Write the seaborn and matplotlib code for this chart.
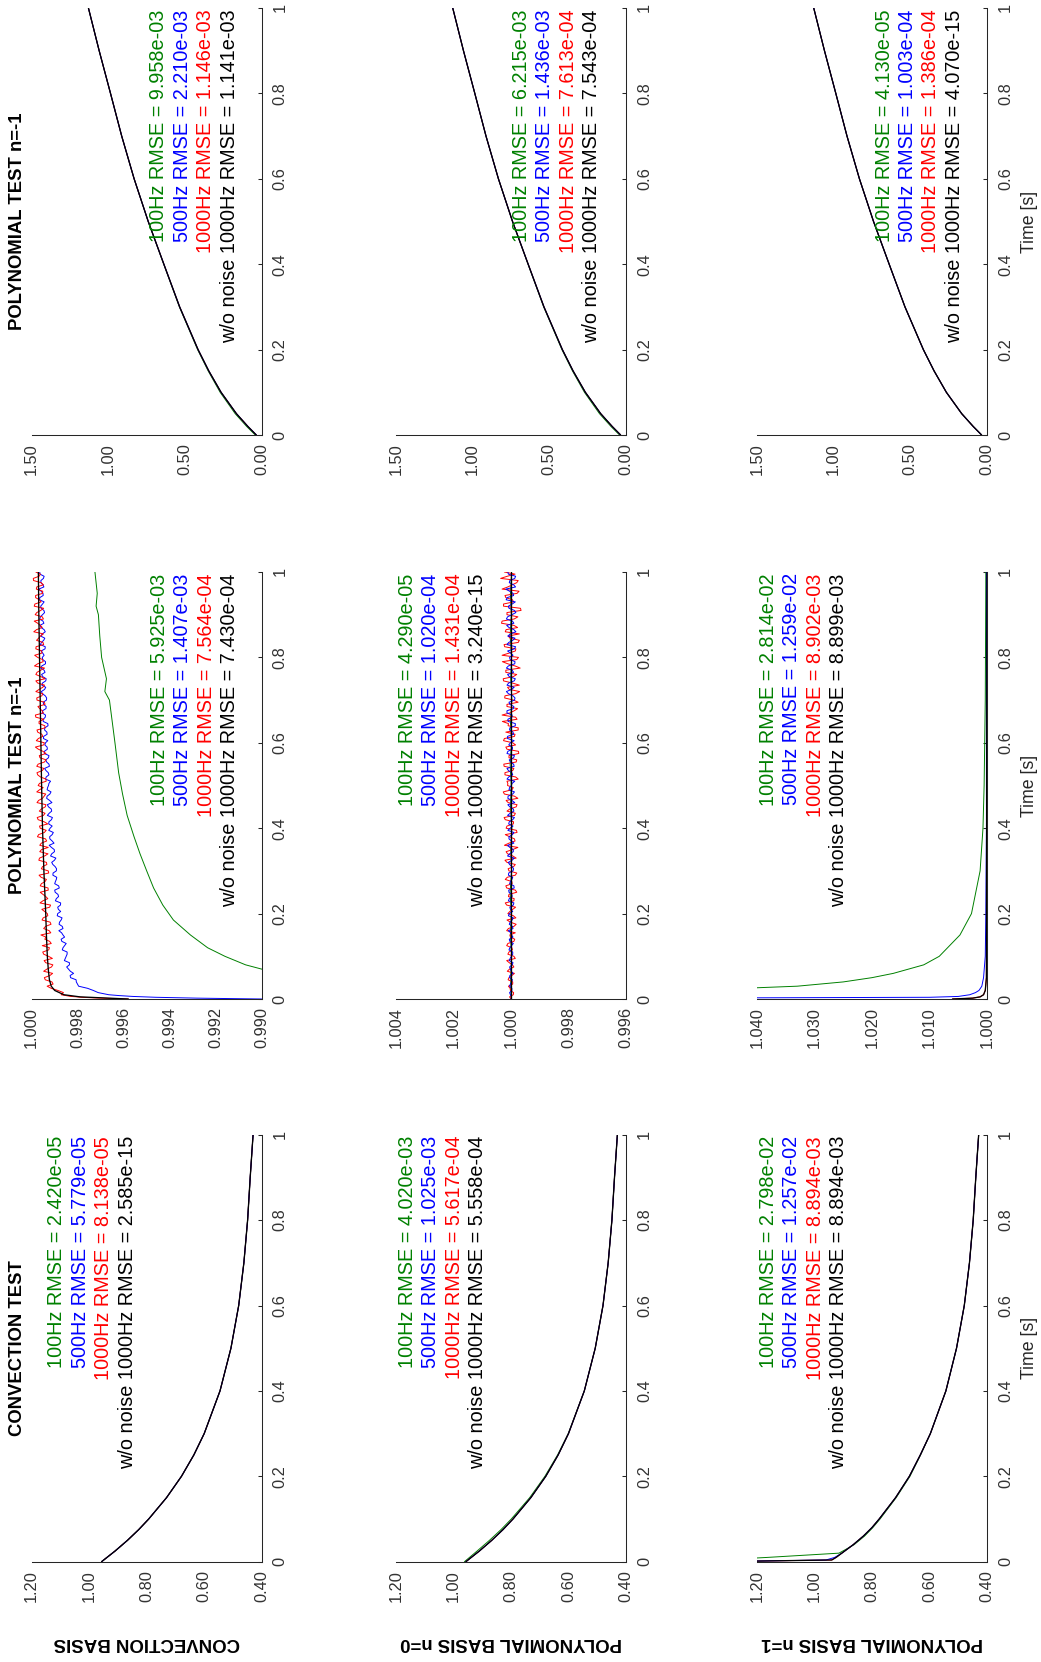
import numpy as np
import matplotlib
matplotlib.use("Agg")
import matplotlib.pyplot as plt
import seaborn as sns
from matplotlib.ticker import FormatStrFormatter

# ---------------- data ----------------
TIME_TICKS = [0, 0.2, 0.4, 0.6, 0.8, 1.0]
TIME_LABELS = ["0", "0.2", "0.4", "0.6", "0.8", "1"]

ROW_LABELS = ["CONVECTION BASIS", "POLYNOMIAL BASIS n=0", "POLYNOMIAL BASIS n=1"]
COL_TITLES = ["CONVECTION TEST", "POLYNOMIAL TEST n=-1", "POLYNOMIAL TEST n=-1"]
LINE_NAMES = ["100Hz", "500Hz", "1000Hz", "w/o noise 1000Hz"]

# RMSE values [test][basis] -> 100Hz, 500Hz, 1000Hz, w/o noise
RMSE = [
    [["2.420e-05", "5.779e-05", "8.138e-05", "2.585e-15"],
     ["4.020e-03", "1.025e-03", "5.617e-04", "5.558e-04"],
     ["2.798e-02", "1.257e-02", "8.894e-03", "8.894e-03"]],
    [["5.925e-03", "1.407e-03", "7.564e-04", "7.430e-04"],
     ["4.290e-05", "1.020e-04", "1.431e-04", "3.240e-15"],
     ["2.814e-02", "1.259e-02", "8.902e-03", "8.899e-03"]],
    [["9.958e-03", "2.210e-03", "1.146e-03", "1.141e-03"],
     ["6.215e-03", "1.436e-03", "7.613e-04", "7.543e-04"],
     ["4.130e-05", "1.003e-04", "1.386e-04", "4.070e-15"]],
]

# convection test
T_CONV = [0, 0.025, 0.05, 0.075, 0.1, 0.15, 0.2, 0.25, 0.3, 0.4, 0.5, 0.6, 0.7, 0.8, 0.9, 1.0]
CONV_FIT = [0.957, 0.910, 0.867, 0.828, 0.793, 0.731, 0.679, 0.636, 0.600, 0.545,
            0.507, 0.480, 0.462, 0.449, 0.440, 0.430]
CONV_N0_100HZ = [0.962, 0.918, 0.875, 0.835, 0.799, 0.735, 0.682, 0.638, 0.601, 0.545,
                 0.507, 0.480, 0.462, 0.449, 0.440, 0.430]
T_CONV_N1 = [0, 0.004, 0.01, 0.02, 0.04, 0.06, 0.08, 0.1, 0.15, 0.2, 0.25, 0.3,
             0.4, 0.5, 0.6, 0.7, 0.8, 0.9, 1.0]
CONV_N1_FIT = [1.35, 0.94, 0.925, 0.905, 0.865, 0.83, 0.80, 0.775, 0.718, 0.670, 0.632,
               0.597, 0.543, 0.506, 0.479, 0.461, 0.448, 0.439, 0.429]
CONV_N1_500HZ = [1.35, 0.96, 0.93, 0.905, 0.865, 0.83, 0.80, 0.775, 0.718, 0.670, 0.632,
                 0.597, 0.543, 0.506, 0.479, 0.461, 0.448, 0.439, 0.429]
T_CONV_N1_100HZ = [0, 0.01, 0.02, 0.03, 0.04, 0.06, 0.08, 0.1, 0.15, 0.2, 0.25, 0.3,
                   0.4, 0.5, 0.6, 0.7, 0.8, 0.9, 1.0]
CONV_N1_100HZ = [1.45, 1.165, 0.915, 0.888, 0.862, 0.826, 0.797, 0.772, 0.716, 0.668, 0.631,
                 0.597, 0.543, 0.506, 0.479, 0.461, 0.448, 0.439, 0.429]

# polynomial test, middle row of panels (offsets from 1 in units of 1e-5)
T_HEAD = [0, 0.002, 0.004, 0.006, 0.008]
T_STEP = np.linspace(0.01, 1.0, 100)
T_STEP_MID = np.linspace(0.005, 0.995, 100)

T_PM_CONV_FIT = [0, 0.005, 0.01, 0.02, 0.03, 0.045, 0.07, 0.1, 0.15, 0.2, 0.3, 0.4,
                 0.5, 0.6, 0.7, 0.8, 0.9, 1.0]
PM_CONV_FIT = [-420, -210, -140, -100, -85, -77, -72, -68, -64, -61, -53, -47,
               -43, -40, -37, -34, -31, -29]
PM_CONV_1000HZ_HEAD = [-420, -300, -215, -170, -150]
PM_CONV_1000HZ = [
    -128, -114, -67, -88, -55, -91, -66, -92, -54, -73,
    -48, -77, -85, -57, -40, -76, -60, -80, -50, -68,
    -44, -82, -49, -61, -37, -71, -42, -64, -32, -72,
    -47, -64, -34, -71, -43, -35, -65, -25, -55, -37,
    -70, -28, -51, -33, -59, -23, -47, -61, -34, -28,
    -63, -38, -23, -53, -28, -63, -33, -49, -16, -55,
    -29, -44, -23, -57, -32, -18, -51, -35, -58, -23,
    -44, -18, -48, -26, -58, -18, -39, -12, -50, -26,
    -44, -18, -52, -21, -38, -9, -46, -26, -51, -15,
    -39, -11, -41, -17, -47, -20, -51, -8, -32, -18]
PM_CONV_1000HZ_MID = [
    -197, -138, -85, -93, -59, -79, -52, -86, -61, -90,
    -52, -74, -46, -78, -62, -83, -52, -84, -45, -70,
    -56, -78, -36, -70, -49, -72, -37, -58, -41, -74,
    -42, -66, -31, -56, -35, -72, -42, -60, -30, -63,
    -34, -54, -24, -58, -42, -62, -30, -54, -22, -50,
    -34, -62, -26, -46, -22, -55, -36, -62, -29, -52,
    -20, -48, -26, -58, -32, -53, -16, -46, -27, -55,
    -22, -48, -32, -56, -18, -40, -23, -56, -26, -47,
    -13, -44, -19, -49, -30, -51, -21, -38, -11, -46,
    -22, -52, -14, -33, -17, -48, -22, -41, -7, -38]
PM_CONV_500HZ_HEAD = [-1000, -720, -540, -440, -380]
PM_CONV_500HZ = [
    -335, -268, -204, -194, -169, -182, -160, -164, -142, -150,
    -154, -136, -150, -128, -136, -118, -133, -121, -132, -113,
    -116, -125, -103, -117, -102, -120, -100, -107, -92, -107,
    -102, -87, -105, -87, -98, -76, -89, -78, -94, -80,
    -74, -86, -68, -87, -73, -88, -65, -79, -67, -73,
    -82, -63, -72, -56, -75, -61, -75, -55, -67, -60,
    -51, -67, -56, -71, -50, -59, -46, -62, -52, -64,
    -59, -42, -61, -47, -63, -43, -54, -44, -60, -46,
    -48, -58, -38, -52, -39, -59, -41, -53, -35, -47,
    -53, -39, -54, -35, -49, -31, -49, -40, -54, -35]
PM_CONV_500HZ_MID = [
    -494, -289, -243, -199, -193, -167, -168, -152, -164, -146,
    -154, -133, -143, -131, -143, -130, -136, -119, -128, -111,
    -126, -113, -126, -107, -114, -100, -117, -103, -109, -93,
    -108, -92, -99, -82, -99, -86, -97, -79, -89, -74,
    -89, -75, -90, -76, -85, -68, -78, -67, -84, -69,
    -75, -60, -75, -62, -77, -65, -73, -55, -68, -57,
    -70, -52, -66, -57, -70, -50, -60, -47, -63, -50,
    -65, -47, -56, -44, -61, -48, -58, -40, -60, -48,
    -54, -41, -59, -42, -57, -46, -54, -36, -49, -38,
    -56, -41, -47, -34, -50, -41, -53, -40, -51, -36]
T_PM_CONV_100HZ = [0, 0.05, 0.07, 0.08, 0.1, 0.12, 0.15, 0.185, 0.22, 0.26, 0.3, 0.34,
                   0.38, 0.43, 0.48, 0.53, 0.6, 0.65, 0.7, 0.72, 0.75, 0.8, 0.85, 0.9,
                   0.92, 0.95, 1.0]
PM_CONV_100HZ = [-3000, -1200, -1000, -930, -840, -765, -690, -616, -570, -530, -500, -471,
                 -445, -415, -395, -378, -362, -350, -338, -318, -325, -304, -296, -290,
                 -280, -285, -275]

PM_N0_1000HZ = [
    -8, 2, 9, -6, 7, -12, 5, -5, 15, -10,
    7, -3, 11, -13, 4, 15, -10, 2, -17, 11,
    -6, 15, -10, 9, -20, 15, -4, 20, -15, 7,
    -9, 14, -18, 12, -6, 23, -14, 5, -21, 17,
    -8, 20, -12, 14, -18, 10, -24, 23, -3, 12,
    14, -16, 21, -10, 25, -20, 7, -26, 18, -6,
    23, -14, -25, 10, 30, -16, 4, -23, 14, -9,
    21, -30, 12, -5, 27, -20, 18, -14, 30, -26,
    7, -17, 24, -29, 10, 20, -23, 33, -11, 14,
    -35, 26, -9, 18, -21, 31, -4, -25, 13, 23]
PM_N0_1000HZ_MID = [
    5, -9, 3, -6, 10, -3, 13, -10, 6, -15,
    11, -5, 15, -10, 2, -15, 9, -18, 14, -8,
    4, -16, 20, -11, 7, -15, 18, -3, 13, -20,
    10, -15, 21, -6, 17, -24, 7, -12, 20, -19,
    14, -9, 24, -15, 4, -21, 17, -12, 27, -8,
    11, -25, 21, -6, 24, -18, 7, -27, 14, -16,
    26, -12, 18, -25, 9, -21, 31, -11, 14, -25,
    22, -16, 6, -29, 26, -8, 18, -32, 11, -20,
    31, -15, 22, -25, 3, -29, 17, -10, 31, -24,
    14, -33, 26, -5, 21, -28, 11, -20, 36, -14]
PM_N0_500HZ = [
    2, -3, 5, -2, 5, -7, 2, -4, 6, -1,
    -6, 4, -8, 6, -2, 9, -5, 3, -8, 6,
    2, -8, 9, -4, 7, -11, 5, -3, 9, -7,
    -4, 9, -11, 5, -8, 12, -2, 7, -10, 3,
    8, -6, 12, -10, 4, -13, 11, -6, 7, -1,
    -13, 8, -3, 14, -9, 6, -12, 11, -5, 2,
    12, -9, 5, -15, 10, -3, 14, -8, 4, -12,
    -7, 16, -11, 8, -15, 12, -4, 9, -14, 5,
    1, -12, 14, -6, 11, -17, 7, -10, 16, -3,
    -12, 9, -15, 13, -7, 18, -9, 4, -16, 11]
PM_N0_500HZ_MID = [
    -2, 5, -3, 2, -5, 4, -1, 5, -7, 3,
    -6, 7, -2, 4, -7, 1, -7, 6, -4, 9,
    -6, 4, -10, 6, -3, 8, -10, 2, -6, 8,
    -9, 5, -4, 12, -8, 4, -10, 7, -5, 11,
    -7, 6, -12, 3, -8, 11, -3, 10, -12, 5,
    -4, 14, -6, 9, -11, 2, -9, 14, -5, 8,
    -11, 12, -7, 4, -15, 11, -4, 14, -10, 7,
    -14, 9, -2, 14, -11, 6, -9, 16, -13, 3,
    -7, 12, -16, 8, -14, 2, -10, 15, -5, 12,
    -17, 7, -4, 17, -9, 5, -16, 6, -13, 9]
T_PM_N0_100HZ = np.linspace(0, 1, 21)
PM_N0_100HZ = [0, 1, -2, 2, -1, 3, -2, 1, -3, 2, -1, 3, -2, 2, -3, 1, -2, 3, -1, 2, -2]
T_PM_N0_FIT = [0, 1.0]
PM_N0_FIT = [0, 0]

T_PM_N1_100HZ = [0, 0.01, 0.02, 0.03, 0.04, 0.05, 0.06, 0.08, 0.1, 0.15, 0.2, 0.3,
                 0.4, 0.5, 0.7, 1.0]
PM_N1_100HZ = [1.30, 1.12, 1.052, 1.033, 1.025, 1.020, 1.0163, 1.011, 1.0083, 1.0047,
               1.0027, 1.0012, 1.0007, 1.0005, 1.0003, 1.0002]
T_PM_N1_500HZ = [0, 0.002, 0.004, 0.006, 0.01, 0.015, 0.02, 0.03, 0.05, 0.1, 0.2, 0.4, 0.7, 1.0]
PM_N1_500HZ = [1.30, 1.06, 1.010, 1.005, 1.003, 1.002, 1.0014, 1.0009, 1.0006, 1.0003,
               1.0002, 1.0001, 1.0001, 1.0001]
T_PM_N1_FIT = [0, 0.002, 0.005, 0.01, 0.02, 0.05, 1.0]
PM_N1_FIT = [1.006, 1.0025, 1.0012, 1.0006, 1.0003, 1.0001, 1.0]

# polynomial test, top row of panels
T_TOP = [0, 0.02, 0.05, 0.1, 0.15, 0.2, 0.3, 0.4, 0.5, 0.6, 0.7, 0.8, 0.9, 1.0]
TOP_FIT = [0.035, 0.09, 0.165, 0.265, 0.345, 0.415, 0.535, 0.638, 0.74, 0.832,
           0.913, 0.986, 1.06, 1.13]
TOP_100HZ = [0.042, 0.098, 0.173, 0.271, 0.349, 0.418, 0.537, 0.639, 0.74, 0.832,
             0.913, 0.986, 1.06, 1.13]

GREEN, BLUE, RED, BLACK = "#008000", "#0000ff", "#ff0000", "#000000"
LINE_COLORS = [GREEN, BLUE, RED, BLACK]
AX_COLOR = "#262626"


def unit(*offsets):
    return 1 + np.concatenate([np.asarray(o, dtype=float) for o in offsets]) * 1e-5


def draw_lines(ax, lines):
    for t, v, color in lines:
        t = np.asarray(t, dtype=float)
        v = np.asarray(v, dtype=float)
        order = np.argsort(t, kind="stable")
        lw = 0.95 if color == BLACK else 0.7
        sns.lineplot(x=v[order], y=t[order], sort=False, estimator=None,
                     color=color, linewidth=lw, ax=ax)


def style_axes(ax, lo, hi, step, fmt):
    ax.set_xlim(hi, lo)
    ax.set_ylim(0, 1)
    ax.set_xticks(np.linspace(lo, hi, int(round((hi - lo) / step)) + 1))
    ax.xaxis.set_major_formatter(FormatStrFormatter(fmt))
    ax.set_yticks(TIME_TICKS)
    ax.set_yticklabels(TIME_LABELS)
    ax.yaxis.tick_right()
    ax.set_xlabel("")
    ax.set_ylabel("")
    for side in ["top", "left"]:
        ax.spines[side].set_visible(False)
    for side in ["bottom", "right"]:
        ax.spines[side].set_color(AX_COLOR)
        ax.spines[side].set_linewidth(0.75)
    ax.tick_params(axis="both", direction="in", length=3.2, width=0.75, color=AX_COLOR,
                   labelcolor="#333333", labelsize=11.8, labelrotation=90)
    ax.tick_params(axis="x", pad=6.0)
    ax.tick_params(axis="y", pad=8.0)
    for lab in ax.get_yticklabels():
        lab.set_va("center")


def annotate(ax, x0, values):
    for k, (name, val, col) in enumerate(zip(LINE_NAMES, values, LINE_COLORS)):
        ax.text(x0 + k * 0.1017, 0.997, f"{name} RMSE = {val}", transform=ax.transAxes,
                rotation=90, ha="center", va="top", color=col, fontsize=14.3)


def main():
    sns.set_style("white")
    plt.rcParams["font.family"] = ["Liberation Sans", "DejaVu Sans"]

    fig = plt.figure(figsize=(10.41, 16.62), dpi=100)
    col_x = [31.7, 396.0, 757.0]          # left edge (px) of each basis column
    block_bottom = [1561.7, 999.0, 435.0]  # t=0 line (px) of each test block
    w, h = 230.0, 427.0

    # per test: value range, tick step, format
    ranges = [
        [(0.40, 1.20, 0.2, "%.2f")] * 3,
        [(0.990, 1.000, 0.002, "%.3f"), (0.996, 1.004, 0.002, "%.3f"), (1.000, 1.040, 0.01, "%.3f")],
        [(0.00, 1.50, 0.5, "%.2f")] * 3,
    ]
    text_x = [[0.11, 0.05, 0.05], [0.555, 0.05, 0.05], [0.553, 0.545, 0.553]]

    t_head_fine = np.concatenate([T_HEAD, T_STEP, T_STEP_MID])
    t_fine0 = np.concatenate([[0], T_STEP, T_STEP_MID])
    lines = [
        [
            [(T_CONV, CONV_FIT, GREEN), (T_CONV, CONV_FIT, RED), (T_CONV, CONV_FIT, BLUE),
             (T_CONV, CONV_FIT, BLACK)],
            [(T_CONV, CONV_N0_100HZ, GREEN), (T_CONV, CONV_FIT, RED), (T_CONV, CONV_FIT, BLUE),
             (T_CONV, CONV_FIT, BLACK)],
            [(T_CONV_N1_100HZ, CONV_N1_100HZ, GREEN), (T_CONV_N1, CONV_N1_FIT, RED),
             (T_CONV_N1, CONV_N1_500HZ, BLUE), (T_CONV_N1, CONV_N1_FIT, BLACK)],
        ],
        [
            [(T_PM_CONV_100HZ, unit(PM_CONV_100HZ), GREEN),
             (t_head_fine, unit(PM_CONV_500HZ_HEAD, PM_CONV_500HZ, PM_CONV_500HZ_MID), BLUE),
             (t_head_fine, unit(PM_CONV_1000HZ_HEAD, PM_CONV_1000HZ, PM_CONV_1000HZ_MID), RED),
             (T_PM_CONV_FIT, unit(PM_CONV_FIT), BLACK)],
            [(T_PM_N0_100HZ, unit(PM_N0_100HZ), GREEN),
             (t_fine0, unit([0], PM_N0_1000HZ, PM_N0_1000HZ_MID), RED),
             (t_fine0, unit([0], PM_N0_500HZ, PM_N0_500HZ_MID), BLUE),
             (T_PM_N0_FIT, unit(PM_N0_FIT), BLACK)],
            [(T_PM_N1_100HZ, PM_N1_100HZ, GREEN), (T_PM_N1_FIT, PM_N1_FIT, RED),
             (T_PM_N1_500HZ, PM_N1_500HZ, BLUE), (T_PM_N1_FIT, PM_N1_FIT, BLACK)],
        ],
        [
            [(T_TOP, TOP_100HZ, GREEN), (T_TOP, TOP_FIT, RED), (T_TOP, TOP_FIT, BLUE),
             (T_TOP, TOP_FIT, BLACK)],
            [(T_TOP, TOP_100HZ, GREEN), (T_TOP, TOP_FIT, RED), (T_TOP, TOP_FIT, BLUE),
             (T_TOP, TOP_FIT, BLACK)],
            [(T_TOP, TOP_FIT, GREEN), (T_TOP, TOP_FIT, RED), (T_TOP, TOP_FIT, BLUE),
             (T_TOP, TOP_FIT, BLACK)],
        ],
    ]

    for i in range(3):          # test (block, bottom -> top)
        for j in range(3):      # basis (column, left -> right)
            ax = fig.add_axes([col_x[j] / 1041, 1 - block_bottom[i] / 1662, w / 1041, h / 1662])
            draw_lines(ax, lines[i][j])
            lo, hi, step, fmt = ranges[i][j]
            style_axes(ax, lo, hi, step, fmt)
            annotate(ax, text_x[i][j], RMSE[i][j])
            if j == 0:
                ax.text((17.5 - col_x[0]) / w, 0.5, COL_TITLES[i], transform=ax.transAxes,
                        rotation=90, ha="center", va="center", fontsize=13.3,
                        fontweight="bold", color="black")
            if i == 0:
                ax.text(0.5, (block_bottom[0] - 1643) / h, ROW_LABELS[j], transform=ax.transAxes,
                        rotation=180, ha="center", va="center", fontsize=13.4,
                        fontweight="bold", color="black")
            if j == 2:
                ax.text((1030 - col_x[2]) / w, 0.5, "Time [s]", transform=ax.transAxes,
                        rotation=90, ha="center", va="center", fontsize=12.8, color=AX_COLOR)

    fig.savefig("out.png", dpi=100)


if __name__ == "__main__":
    main()
